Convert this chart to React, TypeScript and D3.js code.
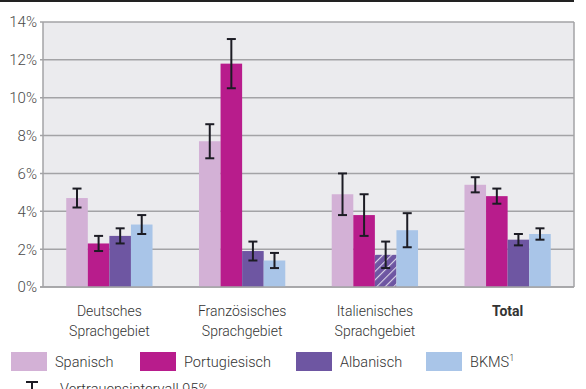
import React, { useEffect, useRef } from "react";
import * as d3 from "d3";

// Gruppen (x-Achse)
const groups = ["Deutsches\nSprachgebiet", "Französisches\nSprachgebiet", "Italienisches\nSprachgebiet", "Total"];
const languages = ["Spanisch", "Portugiesisch", "Albanisch", "BKMS"];
const colors = ["#d3b1d6", "#b81c8c", "#6e56a2", "#a9c5e8"];

// Werte in % pro Gruppe (Reihenfolge wie languages)
const values = [
    [4.7, 2.3, 2.7, 3.3],
    [7.7, 11.8, 1.9, 1.4],
    [4.9, 3.8, 1.7, 3.0],
    [5.4, 4.8, 2.5, 2.8],
];
const ciLow = [
    [4.2, 1.9, 2.3, 2.8],
    [6.8, 10.5, 1.4, 1.0],
    [3.8, 2.7, 1.0, 2.1],
    [5.0, 4.4, 2.2, 2.5],
];
const ciHigh = [
    [5.2, 2.7, 3.1, 3.8],
    [8.6, 13.1, 2.4, 1.8],
    [6.0, 4.9, 2.4, 3.9],
    [5.8, 5.2, 2.8, 3.1],
];
// schraffiert = geringe Fallzahl
const hatched = [
    [false, false, false, false],
    [false, false, false, false],
    [false, false, true, false],
    [false, false, false, false],
];
const yTicks = [0, 2, 4, 6, 8, 10, 12, 14];

const App: React.FC = () => {
    const svgRef = useRef<SVGSVGElement | null>(null);

    useEffect(() => {
        if (!svgRef.current) return;
        const svg = d3.select(svgRef.current);
        svg.selectAll("*").remove();

        const width = 586;
        const height = 389;
        const margin = { top: 22, right: 12, bottom: 102, left: 43 };
        const font = "Roboto, 'Noto Sans', sans-serif";

        const x = d3
            .scaleBand()
            .domain(groups)
            .range([margin.left, width - margin.right])
            .paddingInner(0.35)
            .paddingOuter(0.175);

        const xInner = d3
            .scaleBand()
            .domain(languages)
            .range([0, x.bandwidth()]);

        const y = d3
            .scaleLinear()
            .domain([0, 14])
            .range([height - margin.bottom, margin.top]);

        // Schraffur
        const defs = svg.append("defs");
        const pattern = defs
            .append("pattern")
            .attr("id", "hatch")
            .attr("patternUnits", "userSpaceOnUse")
            .attr("width", 6)
            .attr("height", 6)
            .attr("patternTransform", "rotate(45)");
        pattern.append("rect").attr("width", 6).attr("height", 6).attr("fill", colors[2]);
        pattern
            .append("line")
            .attr("x1", 0)
            .attr("y1", 0)
            .attr("x2", 0)
            .attr("y2", 6)
            .attr("stroke", "#ffffff")
            .attr("stroke-width", 2.2)
            .attr("opacity", 0.75);

        // obere Linie
        svg.append("line")
            .attr("x1", 0)
            .attr("x2", width - margin.right)
            .attr("y1", 1)
            .attr("y2", 1)
            .attr("stroke", "#222")
            .attr("stroke-width", 2);

        // Hintergrund
        svg.append("rect")
            .attr("x", margin.left)
            .attr("y", margin.top)
            .attr("width", width - margin.left - margin.right)
            .attr("height", y(0) - margin.top)
            .attr("fill", "#ebebee");

        // Gitterlinien
        svg.append("g")
            .selectAll("line")
            .data(yTicks)
            .join("line")
            .attr("x1", margin.left - 3)
            .attr("x2", width - margin.right)
            .attr("y1", (d) => y(d))
            .attr("y2", (d) => y(d))
            .attr("stroke", "#a3a3a6")
            .attr("stroke-width", 1.5);

        svg.append("line")
            .attr("x1", width - margin.right)
            .attr("x2", width - margin.right)
            .attr("y1", margin.top)
            .attr("y2", y(0))
            .attr("stroke", "#a3a3a6")
            .attr("stroke-width", 1.5);
        svg.append("line")
            .attr("x1", margin.left)
            .attr("x2", margin.left)
            .attr("y1", margin.top)
            .attr("y2", y(0))
            .attr("stroke", "#a3a3a6")
            .attr("stroke-width", 1.5);

        // y-Beschriftung
        svg.append("g")
            .selectAll("text")
            .data(yTicks)
            .join("text")
            .attr("x", margin.left - 6)
            .attr("y", (d) => y(d))
            .attr("dy", "0.36em")
            .attr("text-anchor", "end")
            .attr("font-family", font)
            .attr("font-weight", 300)
            .attr("font-size", 15)
            .attr("fill", "#4a4a4a")
            .text((d) => `${d}%`);

        // Balken
        const g = svg
            .append("g")
            .selectAll("g")
            .data(groups)
            .join("g")
            .attr("transform", (d) => `translate(${x(d)},0)`);

        g.each(function (_grp, gi) {
            const sel = d3.select(this);
            languages.forEach((lang, li) => {
                const bx = xInner(lang)!;
                const bw = xInner.bandwidth();
                const v = values[gi][li];
                sel.append("rect")
                    .attr("x", bx)
                    .attr("y", y(v))
                    .attr("width", bw)
                    .attr("height", y(0) - y(v))
                    .attr("fill", hatched[gi][li] ? "url(#hatch)" : colors[li]);

                const cx = bx + bw / 2;
                const lo = y(ciLow[gi][li]);
                const hi = y(ciHigh[gi][li]);
                const ci = sel.append("g").attr("stroke", "#1c1c24").attr("stroke-width", 2);
                ci.append("line").attr("x1", cx).attr("x2", cx).attr("y1", lo).attr("y2", hi);
                ci.append("line").attr("x1", cx - 4.5).attr("x2", cx + 4.5).attr("y1", lo).attr("y2", lo);
                ci.append("line").attr("x1", cx - 4.5).attr("x2", cx + 4.5).attr("y1", hi).attr("y2", hi);
            });
        });

        // x-Achse
        svg.append("line")
            .attr("x1", margin.left - 3)
            .attr("x2", width - margin.right)
            .attr("y1", y(0))
            .attr("y2", y(0))
            .attr("stroke", "#a3a3a6")
            .attr("stroke-width", 1.5);

        // Gruppenbeschriftung
        svg.append("g")
            .selectAll("text")
            .data(groups)
            .join("text")
            .attr("x", (d) => x(d)! + x.bandwidth() / 2)
            .attr("y", 316)
            .attr("text-anchor", "middle")
            .attr("font-family", font)
            .attr("font-size", 14)
            .attr("font-weight", (d) => (d === "Total" ? 700 : 300))
            .attr("fill", "#333")
            .each(function (d) {
                const t = d3.select(this);
                d.split("\n").forEach((line, i) => {
                    t.append("tspan")
                        .attr("x", x(d)! + x.bandwidth() / 2)
                        .attr("dy", i === 0 ? 0 : 20)
                        .text(line);
                });
            });

        // Legende
        const legendX = [11, 140, 296, 426];
        const leg = svg
            .append("g")
            .selectAll("g")
            .data(languages)
            .join("g")
            .attr("transform", (_d, i) => `translate(${legendX[i]},352)`);
        leg.append("rect")
            .attr("width", 36)
            .attr("height", 19)
            .attr("fill", (_d, i) => colors[i]);
        leg.append("text")
            .attr("x", 44)
            .attr("y", 15)
            .attr("font-family", font)
            .attr("font-weight", 300)
            .attr("font-size", 14.5)
            .attr("fill", "#333")
            .each(function (d) {
                const t = d3.select(this);
                t.text(d);
                if (d === "BKMS") {
                    t.append("tspan").attr("font-size", 9).attr("dy", -6).text("1");
                }
            });

        // Vertrauensintervall-Symbol
        const sym = svg.append("g").attr("stroke", "#1c1c24").attr("stroke-width", 2);
        sym.append("line").attr("x1", 26).attr("x2", 38).attr("y1", 382).attr("y2", 382);
        sym.append("line").attr("x1", 32).attr("x2", 32).attr("y1", 382).attr("y2", 395);
        svg.append("text")
            .attr("x", 60)
            .attr("y", 394)
            .attr("font-family", font)
            .attr("font-weight", 300)
            .attr("font-size", 14.5)
            .attr("fill", "#333")
            .text("Vertrauensintervall 95%");
    }, []);

    return (
        <svg
            ref={svgRef}
            width={586}
            height={389}
            style={{ position: "absolute", left: 0, top: 0 }}
        ></svg>
    );
};

export default App;
